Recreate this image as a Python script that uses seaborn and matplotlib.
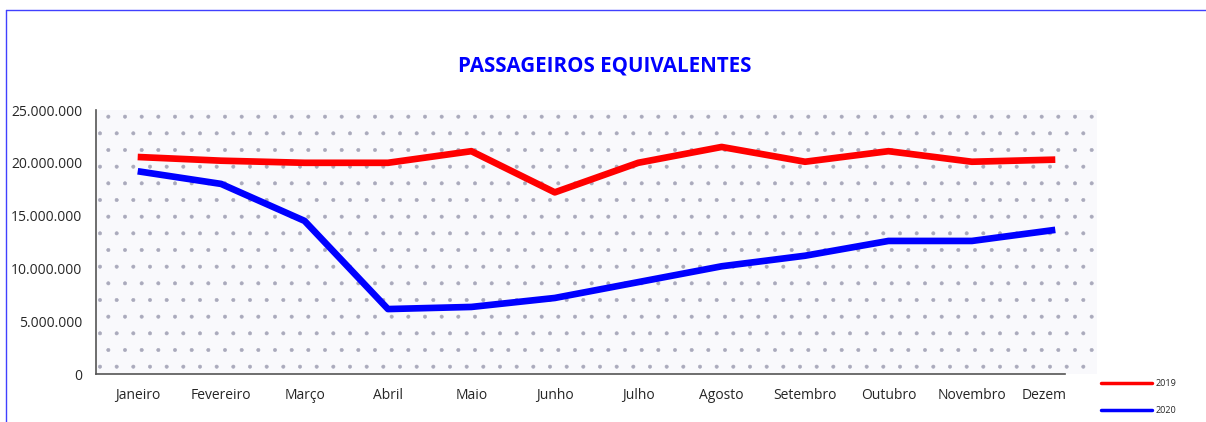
import matplotlib
matplotlib.use("Agg")
import matplotlib.pyplot as plt
import matplotlib.ticker as mticker
from matplotlib.lines import Line2D
from matplotlib.patches import Rectangle
from matplotlib.transforms import Bbox
import pandas as pd
import seaborn as sns

# values
meses = ["Janeiro", "Fevereiro", "Março", "Abril", "Maio", "Junho",
         "Julho", "Agosto", "Setembro", "Outubro", "Novembro", "Dezembro"]
pax_2019 = [20.55e6, 20.2e6, 20.0e6, 20.0e6, 21.1e6, 17.2e6,
            20.0e6, 21.5e6, 20.1e6, 21.1e6, 20.1e6, 20.3e6]
pax_2020 = [19.2e6, 18.0e6, 14.5e6, 6.15e6, 6.35e6, 7.2e6,
            8.7e6, 10.2e6, 11.2e6, 12.6e6, 12.6e6, 13.65e6]
anos = ["2019", "2020"]
cores = {"2019": "#ff0000", "2020": "#0000ff"}

df = pd.DataFrame({
    "mes": list(range(len(meses))) * 2,
    "valor": pax_2019 + pax_2020,
    "ano": [anos[0]] * len(meses) + [anos[1]] * len(meses),
})

sns.set_style("white")
plt.rcParams["font.family"] = ["Open Sans", "DejaVu Sans"]
plt.rcParams["hatch.linewidth"] = 0.4

fig = plt.figure(figsize=(12.06, 4.22), dpi=100)
ax = fig.add_axes([96 / 1206, 1 - 374 / 422, (1097 - 96) / 1206, (374 - 110) / 422])

# dotted background of the plot area
ax.set_facecolor("#f9f9fc")
ax.add_patch(Rectangle((0, 0), 1, 1, transform=ax.transAxes, facecolor="none",
                       edgecolor="#aaaabc", hatch=".", linewidth=0, zorder=0))

sns.lineplot(data=df, x="mes", y="valor", hue="ano", palette=cores,
             linewidth=4.8, ax=ax, legend=False, zorder=3)
for ln in ax.lines:
    ln.set_solid_joinstyle("round")
    ln.set_solid_capstyle("butt")

ax.set_xlim(-0.5, 11.5)
ax.set_ylim(0, 25e6)
ax.set_yticks([0, 5e6, 10e6, 15e6, 20e6, 25e6])
ax.yaxis.set_major_formatter(mticker.FuncFormatter(
    lambda v, p: f"{int(v):,}".replace(",", ".")))
ax.set_xticks([i - 0.5 for i in range(12)])
ax.set_xticklabels([])
ax.set_xticks(range(12), minor=True)
ax.set_xticklabels(meses, minor=True)
ax.tick_params(axis="x", which="minor", length=0, pad=10, labelsize=10)
ax.tick_params(axis="x", which="major", length=6, width=1, color="#555555", direction="out")
ax.tick_params(axis="y", length=6, width=1, color="#555555", direction="out", labelsize=10, pad=4)
ax.set_xlabel("")
ax.set_ylabel("")
for s in ["top", "right"]:
    ax.spines[s].set_visible(False)
for s in ["left", "bottom"]:
    ax.spines[s].set_color("#555555")
    ax.spines[s].set_linewidth(1.2)
ax.spines["bottom"].set_bounds(-0.5, 11.12)

# last month label is cut off in the original
clip = Bbox.from_extents(0, 0, 1066, 422)
lbl = ax.xaxis.get_minorticklabels()[-1]
lbl.set_clip_box(clip)
lbl.set_clip_on(True)

fig.text(605 / 1206, 1 - 66 / 422, "PASSAGEIROS EQUIVALENTES", ha="center", va="center",
         color="#0000ff", fontsize=14.8, fontweight="bold")

handles = [Line2D([], [], color=cores[a], linewidth=2.5) for a in anos]
fig.legend(handles, anos, loc="center left", bbox_to_anchor=(1093 / 1206, 1 - 397 / 422),
           frameon=False, fontsize=6.5, handlelength=5.6, labelspacing=2.0, handletextpad=0.4)

# blue frame lines of the original image
fig.add_artist(Line2D([6 / 1206, 6 / 1206], [0, 1 - 10 / 422], color="#4040ff", linewidth=1))
fig.add_artist(Line2D([6 / 1206, 1], [1 - 10 / 422, 1 - 10 / 422], color="#4040ff", linewidth=1))

fig.savefig("out.png", dpi=100)
